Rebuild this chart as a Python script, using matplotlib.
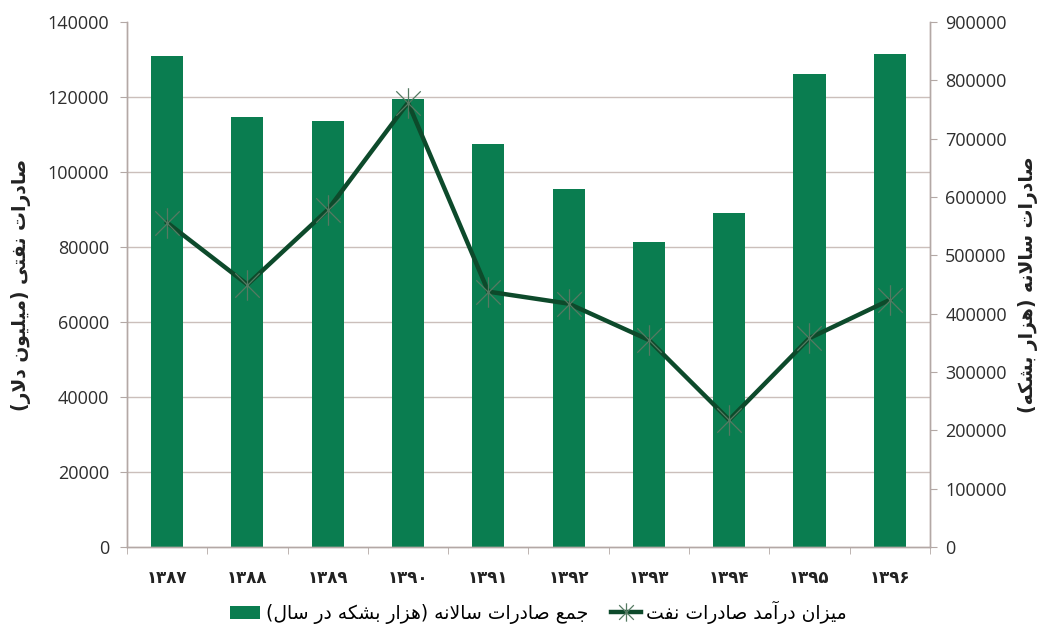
import numpy as np
import matplotlib
matplotlib.use('Agg')
import matplotlib.pyplot as plt
from matplotlib.path import Path
from matplotlib.ticker import FixedLocator

# داده ها
years = [1387, 1388, 1389, 1390, 1391, 1392, 1393, 1394, 1395, 1396]
exports_barrels = [842000, 737000, 730000, 768000, 691000, 614000, 523000, 573000, 811000, 846000]
oil_revenue = [86500, 70000, 89900, 118500, 68100, 64900, 55200, 33900, 55700, 65900]

label_left = "صادرات نفتی (میلیون دلار)"
label_right = "صادرات سالانه (هزار بشکه)"
legend_bars = "جمع صادرات سالانه (هزار بشکه در سال)"
legend_line = "میزان درآمد صادرات نفت"

# شکل های حروف: جدا، پایانی، آغازی، میانی
FORMS = {
    'ا': ('\uFE8D', '\uFE8E', None, None),
    'آ': ('\uFE81', '\uFE82', None, None),
    'ب': ('\uFE8F', '\uFE90', '\uFE91', '\uFE92'),
    'ت': ('\uFE95', '\uFE96', '\uFE97', '\uFE98'),
    'ج': ('\uFE9D', '\uFE9E', '\uFE9F', '\uFEA0'),
    'د': ('\uFEA9', '\uFEAA', None, None),
    'ر': ('\uFEAD', '\uFEAE', None, None),
    'ز': ('\uFEAF', '\uFEB0', None, None),
    'س': ('\uFEB1', '\uFEB2', '\uFEB3', '\uFEB4'),
    'ش': ('\uFEB5', '\uFEB6', '\uFEB7', '\uFEB8'),
    'ص': ('\uFEB9', '\uFEBA', '\uFEBB', '\uFEBC'),
    'ع': ('\uFEC9', '\uFECA', '\uFECB', '\uFECC'),
    'ف': ('\uFED1', '\uFED2', '\uFED3', '\uFED4'),
    'ک': ('\uFB8E', '\uFB8F', '\uFB90', '\uFB91'),
    'ل': ('\uFEDD', '\uFEDE', '\uFEDF', '\uFEE0'),
    'م': ('\uFEE1', '\uFEE2', '\uFEE3', '\uFEE4'),
    'ن': ('\uFEE5', '\uFEE6', '\uFEE7', '\uFEE8'),
    'ه': ('\uFEE9', '\uFEEA', '\uFEEB', '\uFEEC'),
    'و': ('\uFEED', '\uFEEE', None, None),
    'ی': ('\uFBFC', '\uFBFD', '\uFBFE', '\uFBFF'),
}


def joins_next(c):
    return c in FORMS and FORMS[c][2] is not None


def farsi(text):
    # شکل دادن حروف و برگرداندن ترتیب برای نمایش
    chars = list(text)
    out = []
    i = 0
    while i < len(chars):
        c = chars[i]
        if c not in FORMS:
            out.append(c)
            i += 1
            continue
        prev = i > 0 and joins_next(chars[i - 1])
        if c == 'ل' and i + 1 < len(chars) and chars[i + 1] == 'ا':
            out.append('\uFEFC' if prev else '\uFEFB')
            i += 2
            continue
        nxt = joins_next(c) and i + 1 < len(chars) and chars[i + 1] in FORMS
        f = FORMS[c]
        if prev and nxt:
            out.append(f[3])
        elif prev:
            out.append(f[1])
        elif nxt:
            out.append(f[2])
        else:
            out.append(f[0])
        i += 1
    mirror = {'(': ')', ')': '('}
    return ''.join(mirror.get(c, c) for c in reversed(out))


fa_digits = str.maketrans('0123456789', '۰۱۲۳۴۵۶۷۸۹')
year_labels = [str(y).translate(fa_digits) for y in years]

bar_color = '#0a7d50'
line_color = '#0d4a2b'
grid_color = '#cbbfbb'
spine_color = '#b3a8a5'

plt.rcParams['font.family'] = ['Open Sans', 'DejaVu Sans']

star = Path([(-1, -1), (1, 1), (-1, 1), (1, -1), (0, -1.25), (0, 1.25)],
            [Path.MOVETO, Path.LINETO, Path.MOVETO, Path.LINETO, Path.MOVETO, Path.LINETO])

fig = plt.figure(figsize=(10.46, 6.31), dpi=100)
ax = fig.add_axes([0.1214, 0.1331, 0.889 - 0.1214, 0.9651 - 0.1331])
ax2 = ax.twinx()

x = np.arange(len(years))
bars = ax2.bar(x, exports_barrels, width=0.4, color=bar_color, zorder=2)
line, = ax.plot(x, oil_revenue, color=line_color, lw=3.2, marker=star, markersize=22,
                markeredgecolor='#557a62', markeredgewidth=0.9, zorder=3)

ax.set_zorder(ax2.get_zorder() + 1)
ax.patch.set_visible(False)

ax.set_ylim(0, 140000)
ax.set_yticks(np.arange(0, 140001, 20000))
ax2.set_ylim(0, 900000)
ax2.set_yticks(np.arange(0, 900001, 100000))
# خطوط شبکه در محور سمت راست (زیر میله ها) ولی هم تراز با محور چپ
ax2.yaxis.set_minor_locator(FixedLocator(np.arange(0, 140001, 20000) * 900000 / 140000))
ax2.grid(True, which='minor', axis='y', color=grid_color, lw=1)
ax2.set_axisbelow(True)
ax2.tick_params(axis='y', which='minor', length=0)

ax.set_xlim(-0.5, len(years) - 0.5)
ax.set_xticks(x)
ax.set_xticklabels(year_labels, fontsize=12, fontweight='bold', color='#222222',
                   family=['DejaVu Sans'])
ax.xaxis.set_minor_locator(FixedLocator(np.arange(-0.5, len(years), 1.0)))
ax.tick_params(axis='x', which='major', length=0, pad=16)
ax.tick_params(axis='x', which='minor', length=5, color=spine_color, direction='out')

ax.tick_params(axis='y', labelsize=13, length=5, color=spine_color, labelcolor='#2e2e2e', pad=8)
ax2.tick_params(axis='y', which='major', labelsize=13, length=5, color=spine_color,
                labelcolor='#2e2e2e', pad=6)

for a in (ax, ax2):
    a.spines['top'].set_visible(False)
    for s in ('left', 'right', 'bottom'):
        a.spines[s].set_color(spine_color)
        a.spines[s].set_linewidth(1)

ax.set_ylabel(farsi(label_left), fontsize=13.5, fontweight='bold', family=['DejaVu Sans'],
              color='#222222', labelpad=12)
ax2.set_ylabel(farsi(label_right), fontsize=13.5, fontweight='bold', family=['DejaVu Sans'],
               color='#222222', labelpad=8)

fig.legend([bars, line], [farsi(legend_bars), farsi(legend_line)],
           loc='center', bbox_to_anchor=(0.515, 0.03), ncol=2, frameon=False,
           prop={'family': ['DejaVu Sans'], 'size': 13.5}, handlelength=1.6,
           handletextpad=0.3, columnspacing=1.2, markerscale=0.6)

fig.savefig('out.png', dpi=100)
